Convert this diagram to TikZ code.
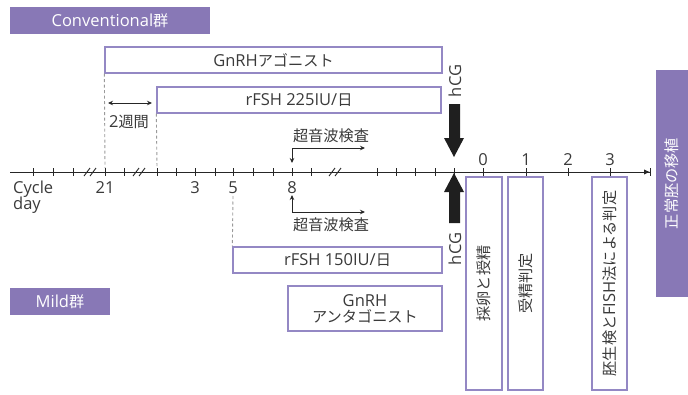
\documentclass[tikz,border=0pt]{standalone}
\usepackage{fontspec}
\setmainfont{Open Sans}
\newfontfamily\jp{Noto Sans CJK JP}[Scale=0.92]
\usetikzlibrary{arrows.meta}
\definecolor{pur}{HTML}{8878B6}
\definecolor{pline}{HTML}{9488C4}
\definecolor{txt}{HTML}{3A3A3A}
\definecolor{dsh}{HTML}{9A9A9A}
\begin{document}
\begin{tikzpicture}[x=1pt,y=-1pt,
  font=\fontsize{16.5}{19}\selectfont, text=txt,
  box/.style={draw=pline, line width=1.3pt, inner sep=0pt, align=center},
  grp/.style={fill=pur, text=white, inner sep=0pt},
  lbl/.style={inner sep=0pt},
  dsl/.style={dsh, line width=0.9pt, dash pattern=on 3pt off 2.5pt},
  tick/.style={line width=0.9pt, black!85},
  sarr/.style={line width=1pt, black!85, {Stealth[length=5pt,width=4.5pt]}-{Stealth[length=5pt,width=4.5pt]}},
  harr/.style={fill=black!88}]
\useasboundingbox (0,0) rectangle (688,394);

% group labels
\node[grp, minimum width=200pt, minimum height=27pt] (conv) at (110,20.5) {Conventional{\jp 群}};
\node[grp, minimum width=100pt, minimum height=27pt] (mild) at (60,301.5) {Mild{\jp 群}};

% upper boxes
\node[box, minimum width=337pt, minimum height=26pt] (agon) at (273.5,60) {GnRH{\jp アゴニスト}};
\node[box, minimum width=284pt, minimum height=26pt] (fsh225) at (299,100) {rFSH 225IU/{\jp 日}};

% lower boxes
\node[box, minimum width=209pt, minimum height=26pt] (fsh150) at (337.5,260) {rFSH 150IU/{\jp 日}};
\node[box, minimum width=154pt, minimum height=45pt, font=\fontsize{16.5}{16}\selectfont] (antag) at (365,308.5) {GnRH\\{\jp アンタゴニスト}};

% vertical boxes
\node[box, rotate=90, minimum width=213pt, minimum height=36pt] (sairan) at (484,283.5) {\jp 採卵と授精};
\node[box, rotate=90, minimum width=213pt, minimum height=35pt] (jusei) at (525.5,283.5) {\jp 受精判定};
\node[box, rotate=90, minimum width=213pt, minimum height=35pt] (fish) at (609.5,283.5) {{\jp 胚生検と}FISH{\jp 法による判定}};
\node[grp, rotate=90, minimum width=227pt, minimum height=32pt] (ishoku) at (672,183.5) {\jp 正常胚の移植};

% axis
\coordinate (axL) at (10,172);
\coordinate (axR) at (651,172);
\draw[line width=0.9pt, black!85, -{Latex[length=6pt,width=5.5pt]Bar[width=8pt,line width=1pt]}] (axL) -- (axR);
\foreach \x in {33,53,73,105,124,157,176,195,215,233,253,273,292,311,377,396,415,435,454,483,526,568,610}
  \draw[tick] (\x,168) -- (\x,176);
\foreach \x in {84,133,329}{
  \draw[tick] (\x,176) -- (\x+6,168);
  \draw[tick] (\x+6,176) -- (\x+12,168);
}

% axis labels
\node[lbl, anchor=base west] (cyc) at (13,193) {Cycle};
\node[lbl, anchor=base west] (day) at (13,209) {day};
\node[lbl, anchor=base] (d21) at (105,193) {21};
\node[lbl, anchor=base] (d3) at (195,193) {3};
\node[lbl, anchor=base] (d5) at (233,193) {5};
\node[lbl, anchor=base] (d8) at (292,193) {8};
\node[lbl, anchor=base] (e0) at (483,165) {0};
\node[lbl, anchor=base] (e1) at (526,165) {1};
\node[lbl, anchor=base] (e2) at (568,165) {2};
\node[lbl, anchor=base] (e3) at (610,165) {3};

% dashed guides
\coordinate (g1) at (105,168);
\coordinate (g2) at (157,168);
\coordinate (g3) at (233,196);
\draw[dsl] (agon.south west) -- (g1);
\draw[dsl] (fsh225.south west) -- (g2);
\draw[dsl] (g3) -- (fsh150.north west);

% 2 weeks
\coordinate (w1) at (108,103);
\coordinate (w2) at (152,103);
\draw[sarr] (w1) -- (w2);
\node[lbl] (twow) at (129,122) {2{\jp 週間}};

% ultrasound
\coordinate (u1) at (292,163);
\coordinate (u2) at (365,148);
\draw[sarr] (u1) |- (u2);
\node[lbl] (us1) at (331,136) {\jp 超音波検査};
\coordinate (l1) at (292,195);
\coordinate (l2) at (365,212);
\draw[sarr] (l1) |- (l2);
\node[lbl] (us2) at (331,225) {\jp 超音波検査};

% hCG arrows
\fill[harr] (449,104) -- (460,104) -- (460,138) -- (464,138) -- (454,157) -- (444,138) -- (449,138) -- cycle;
\fill[harr] (449,223) -- (460,223) -- (460,192) -- (464,192) -- (454,173) -- (444,192) -- (449,192) -- cycle;
\node[lbl, rotate=90] (hcg1) at (455,81) {hCG};
\node[lbl, rotate=90] (hcg2) at (455,249) {hCG};
\end{tikzpicture}
\end{document}
